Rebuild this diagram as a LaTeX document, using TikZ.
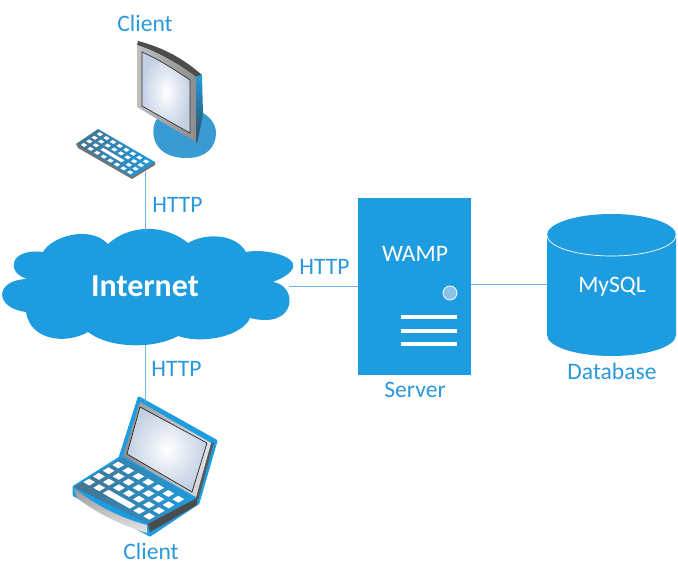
\documentclass[tikz,border=0pt]{standalone}
\usepackage{fontspec}
\setmainfont{Carlito}
\usetikzlibrary{positioning,calc}
\definecolor{netblue}{HTML}{1E9CE0}
\definecolor{inkblue}{HTML}{2A98DA}
\definecolor{wireblue}{HTML}{6DB3E3}
\definecolor{scrblue}{HTML}{C3D0E4}
\definecolor{steel}{HTML}{4F7F9C}
\definecolor{standblue}{HTML}{3A9AD2}
\tikzset{
    lbl/.style={text=inkblue, font=\fontsize{23.6}{25}\selectfont, inner sep=0pt},
    inlbl/.style={text=white, font=\fontsize{23.6}{25}\selectfont, inner sep=0pt},
    wire/.style={draw=wireblue, line width=1pt},
    bar/.style={fill=white}
}
\newcommand{\keycap}[4]{\fill[white] (#1-#3,#2-#4) -- (#1+#3,#2-#4) -- (#1+#3,#2+#4) -- (#1-#3,#2+#4) -- cycle;}
\begin{document}
\begin{tikzpicture}[x=1pt,y=-1pt]
    \useasboundingbox (0,0) rectangle (678,577);
    % Cloud
    \fill [netblue] (43,252) .. controls (52,236) and (90,225) .. (108,244)
        .. controls (130,224) and (165,224) .. (188,243)
        .. controls (205,233) and (235,233) .. (246,252)
        .. controls (270,247) and (322,262) .. (273,282)
        .. controls (298,285) and (298,330) .. (250,318)
        .. controls (243,335) and (205,345) .. (178,336)
        .. controls (155,349) and (110,349) .. (88,332)
        .. controls (65,345) and (30,340) .. (26,312)
        .. controls (-6,308) and (-6,280) .. (27,279)
        .. controls (5,272) and (10,248) .. (43,252) -- cycle;
    \node (internet) at (145,286) [inlbl, font=\fontsize{32}{33}\selectfont\bfseries] {Internet};
    \coordinate (cloudtop) at (145.5,232);
    \coordinate (cloudbot) at (145.5,345);
    \coordinate (cloudeast) at (289,287);
    % Server
    \node (server) at (414.5,286.5) [fill=netblue, minimum width=113pt, minimum height=177pt, inner sep=0pt] {};
    \node (wamp) at (415,254) [inlbl] {WAMP};
    \draw [white, fill=wireblue!80, line width=.8pt] (450,293) circle (7);
    \foreach \y in {317,331,344} \fill [bar] (401,\y-2) rectangle (457,\y+2);
    \node (serverlbl) at (415,390) [lbl] {Server};
    % Database
    \fill [netblue] (547,235) arc (180:360:64.5 and 21) -- (676,335) arc (0:180:64.5 and 21) -- cycle;
    \draw [white, line width=.7pt] (547,235) arc (180:0:64.5 and 21);
    \node (mysql) at (612,287) [inlbl] {MySQL};
    \node (dblbl) at (612,371) [lbl] {Database};
    \coordinate (dbwest) at (547,285);
    % Desktop
    \fill [standblue] (170,110) -- (156,120) .. controls (150,132) and (152,158) .. (187,158)
        .. controls (205,158) and (216,148) .. (216,133) .. controls (216,124) and (210,117) .. (203,113) -- cycle;
    \fill [black!70] (137,45) -- (138,41) .. controls (165,48) and (185,60) .. (202,75) -- (196,77) .. controls (180,65) and (160,53) .. (137,45) -- cycle;
    \shade [top color=netblue, bottom color=steel!60!black] (196,77) -- (202,75) -- (203,115) -- (197,143) -- (196,142) -- cycle;
    \shade [left color=black!25, right color=black!45] (137,45) .. controls (160,53) and (180,65) .. (196,77) -- (196,142) -- (137,107) -- cycle;
    \shade [inner color=white, outer color=scrblue, draw=black!80, line width=.7pt] (142,52) .. controls (160,60) and (175,70) .. (190,80) -- (190,133) -- (142,106) -- cycle;
    % Keyboard
    \fill [black!55] (76,144) -- (78,148) -- (132,179) -- (155,165) -- (155,162) -- cycle;
    \shade [left color=steel!90!black, right color=netblue] (98,129) -- (155,162) -- (132,177) -- (76,144) -- cycle;
    \begin{scope}[shift={(84,145)},x={(6.6pt,-3.9pt)},y={(5.3pt,3.6pt)}]
        \foreach \i in {0,...,7} \foreach \j in {0,2,3} {\keycap{\i}{\j}{.27}{.27}}
        \foreach \i in {0,1,6,7} {\keycap{\i}{1}{.27}{.27}}
        \keycap{3.5}{1}{1.6}{.27}
    \end{scope}
    \coordinate (kbd) at (145.5,172);
    \node (clienttop) at (145,23) [lbl] {Client};
    % Laptop
    \draw [netblue, fill=netblue, line width=3pt, line join=round] (139,398) -- (216,441) -- (198,503) -- (150,535) -- (74,495) -- (74,487) -- (120,458) -- cycle;
    \fill [black!65] (211,443) -- (214,442) -- (198,500) -- (196,497) -- cycle;
    \shade [left color=black!45, right color=black!10] (140,402) -- (211,443) -- (196,497) -- (123,456) -- cycle;
    \shade [inner color=white, outer color=scrblue, draw=black!85, line width=.7pt] (140,407) -- (207,443) -- (192,492) -- (127,454) -- cycle;
    \shade [left color=steel!90!black, right color=netblue] (122,458) -- (197,498) -- (148,524) -- (74,487) -- cycle;
    \fill [black!70] (148,524) -- (197,498) -- (197,505) -- (150,532) -- cycle;
    \shade [top color=black!40, bottom color=black!10] (74,488) .. controls (95,505) and (120,518) .. (147,525) -- (147,533) .. controls (120,525) and (95,512) .. (77,498) -- cycle;
    \begin{scope}[shift={(118.3,465)},x={(10pt,-5.7pt)},y={(-9.7pt,-5.7pt)}]
        \foreach \i in {0,...,6} \foreach \j in {0,1,2} {\keycap{\i}{\j}{.3}{.3}}
        \foreach \i in {0,1,5,6} {\keycap{\i}{3}{.3}{.3}}
        \keycap{3}{3}{1.35}{.3}
    \end{scope}
    \coordinate (lidtop) at (145.5,402);
    \node (clientbot) at (151,551) [lbl] {Client};
    % Links
    \draw [wire] (kbd) -- (cloudtop);
    \draw [wire] (cloudbot) -- (lidtop);
    \draw [wire] (cloudeast) -- (cloudeast -| server.west);
    \draw [wire] (server.east |- dbwest) -- (dbwest);
    \node (httptop) at (177.5,205) [lbl] {HTTP};
    \node (httpbot) at (176.5,369) [lbl] {HTTP};
    \node (httpmid) at (324.5,267) [lbl] {HTTP};
\end{tikzpicture}
\end{document}
